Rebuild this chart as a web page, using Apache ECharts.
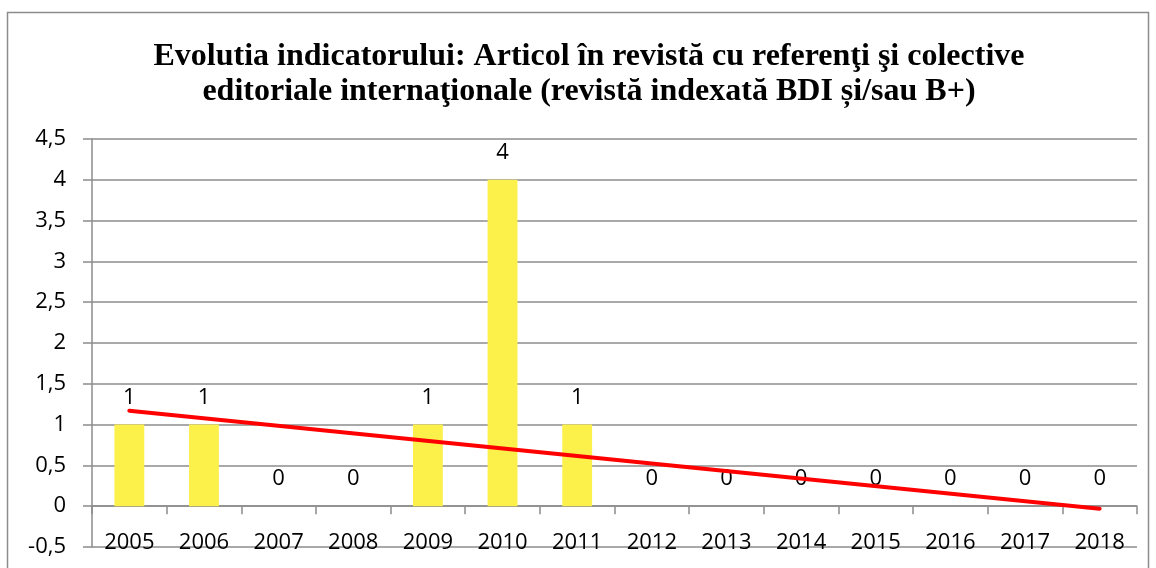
<!DOCTYPE html>
<html>
<head>
<meta charset="utf-8">
<script src="https://cdn.jsdelivr.net/npm/echarts@6/dist/echarts.min.js"></script>
<style>html,body{margin:0;padding:0;background:#fff}#c{width:1156px;height:568px}</style>
</head>
<body>
<div id="c"></div>
<script>
const titleLines = ["Evolutia indicatorului: Articol în revistă cu referenţi şi colective", "editoriale internaţionale (revistă indexată BDI și/sau B+)"];
const years = ["2005","2006","2007","2008","2009","2010","2011","2012","2013","2014","2015","2016","2017","2018"];
const values = [1, 1, 0, 0, 1, 4, 1, 0, 0, 0, 0, 0, 0, 0];
// linear trend line endpoints (first and last year)
const trendValues = [1.17, null, null, null, null, null, null, null, null, null, null, null, null, -0.03];
const yMin = -0.5, yMax = 4.5, yStep = 0.5;

const labelFont = 'Open Sans';
const chart = echarts.init(document.getElementById('c'), null, {renderer: 'canvas'});
chart.setOption({
  animation: false,
  backgroundColor: '#ffffff',
  title: {
    text: titleLines.join('\n'),
    left: 584,
    textAlign: 'center',
    top: 34,
    textStyle: {fontFamily: 'Liberation Serif', fontWeight: 'bold', fontSize: 32, lineHeight: 35, color: '#000'}
  },
  graphic: [{
    type: 'rect', silent: true, z: -10,
    shape: {x: 7.5, y: 12.5, width: 1141, height: 620},
    style: {fill: 'none', stroke: '#8c8c8c', lineWidth: 1.5}
  }],
  grid: {left: 92, right: 19, top: 139, bottom: 21, containLabel: false, outerBoundsMode: 'none'},
  xAxis: [{
    type: 'category',
    data: years,
    boundaryGap: true,
    axisLine: {onZero: true, lineStyle: {color: '#8c8c8c', width: 1.5}},
    axisTick: {show: true, alignWithLabel: false, length: 8, lineStyle: {color: '#8c8c8c', width: 1.5}},
    axisLabel: {show: false}
  }, {
    type: 'category',
    data: years,
    position: 'bottom',
    boundaryGap: true,
    axisLine: {show: false, onZero: false},
    axisTick: {show: false},
    splitLine: {show: false},
    axisLabel: {margin: -15, color: '#000', fontFamily: labelFont, fontSize: 22, interval: 0}
  }],
  yAxis: {
    type: 'value',
    min: yMin, max: yMax, interval: yStep,
    axisLine: {show: true, lineStyle: {color: '#8c8c8c', width: 1.5}},
    axisTick: {show: true, length: 9, lineStyle: {color: '#8c8c8c', width: 1.5}},
    splitLine: {show: true, lineStyle: {color: '#8c8c8c', width: 1.5}},
    axisLabel: {margin: 26, color: '#000', fontFamily: labelFont, fontSize: 22,
      formatter: v => String(Math.round(v * 10) / 10).replace('.', ',')}
  },
  series: [{
    type: 'bar',
    data: values,
    barWidth: '40%',
    itemStyle: {color: '#FCF04A'},
    label: {show: true, position: 'top', distance: 16, color: '#000', fontFamily: labelFont, fontSize: 22}
  }, {
    type: 'line',
    data: trendValues,
    connectNulls: true,
    symbol: 'none',
    z: 5,
    lineStyle: {color: '#ff0000', width: 4, cap: 'round'}
  }]
});
</script>
</body>
</html>
